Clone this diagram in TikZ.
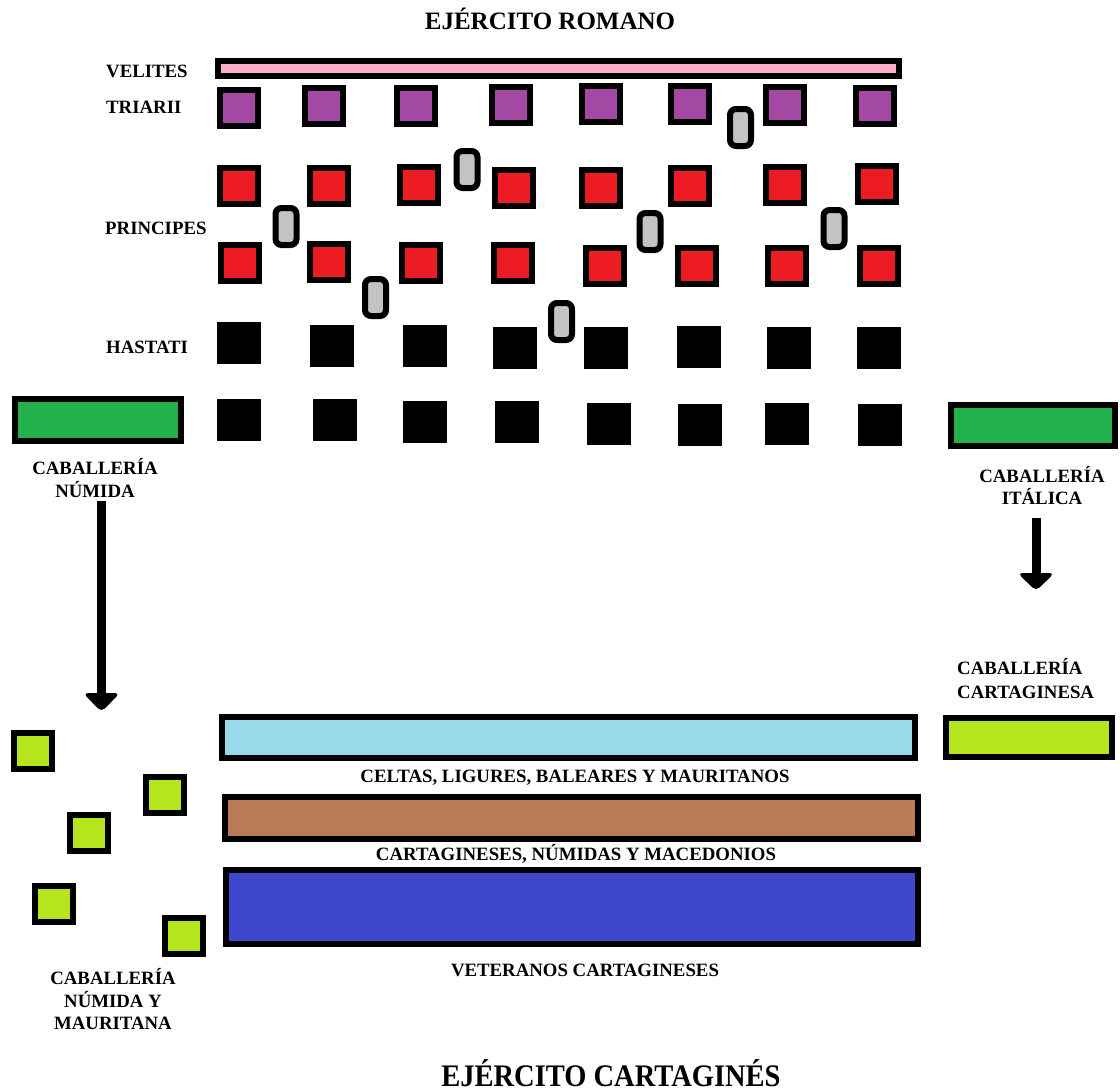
\documentclass[tikz,border=0pt]{standalone}
\usepackage{fontspec}
\setmainfont{Liberation Serif}
\usetikzlibrary{calc}
\definecolor{velpink}{HTML}{FFAEC9}
\definecolor{tripurple}{HTML}{A349A4}
\definecolor{prired}{HTML}{ED1C24}
\definecolor{pillgray}{HTML}{C3C3C3}
\definecolor{cavgreen}{HTML}{22B14C}
\definecolor{limegreen}{HTML}{B5E61D}
\definecolor{celtblue}{HTML}{99D9EA}
\definecolor{cartbrown}{HTML}{B97A57}
\definecolor{vetblue}{HTML}{3F48CC}
\begin{document}
\begin{tikzpicture}[x=1pt,y=-1pt,
  unit/.style={draw=black,line width=6pt,inner sep=0pt,minimum width=38pt,minimum height=36pt},
  blk/.style={fill=black,inner sep=0pt,minimum width=44pt,minimum height=42pt},
  pill/.style={draw=black,line width=6pt,fill=pillgray,rounded corners=6pt,inner sep=0pt,minimum width=21pt,minimum height=37pt},
  bar/.style={draw=black,line width=6pt,inner sep=0pt},
  lbl/.style={font=\bfseries\fontsize{18.8}{22}\selectfont,inner sep=0pt,anchor=base},
  ttl/.style={font=\bfseries\fontsize{25}{30}\selectfont,inner sep=0pt,anchor=base},
  shaft/.style={line width=9pt},
  head/.style={fill=black,rounded corners=5pt}
]
\useasboundingbox[fill=white] (0,0) rectangle (1120,1092);

% titles
\node[ttl] (tromano) at (550,29) {EJÉRCITO ROMANO};
\node[ttl,font=\bfseries\fontsize{28.5}{34}\selectfont] (tcart) at (611,1086) {\scalebox{1}[1.1]{EJÉRCITO CARTAGINÉS}};

% roman labels
\node[lbl,anchor=base west] (lvel) at (106,77) {VELITES};
\node[lbl,anchor=base west] (ltri) at (106,113) {TRIARII};
\node[lbl,anchor=base west] (lpri) at (105,234) {PRINCIPES};
\node[lbl,anchor=base west] (lhas) at (106,353) {HASTATI};

% velites
\node[bar,fill=velpink,minimum width=681pt,minimum height=15pt] (velites) at (558.5,68.5) {};

% triarii
\foreach \x/\y [count=\i] in {239/107.5,324/106,416/106,511/104.5,601/104,690/104,785/105,875/106}
  \node[unit,fill=tripurple] (tri\i) at (\x,\y) {};

% principes
\foreach \x/\y [count=\i] in {239/186,329/186,419/185,514/187.5,601/187.5,690/186,785/185,877/184}
  \node[unit,fill=prired] (pa\i) at (\x,\y) {};
\foreach \x/\y [count=\i] in {240/263,329/262,421/263,512.5/263,605/266,697/266,787/266,879/266}
  \node[unit,fill=prired] (pb\i) at (\x,\y) {};

% hastati
\foreach \x/\y [count=\i] in {239/343,332/346,425/346,515/348,605.5/348,698.5/347,788.5/348,878.5/348}
  \node[blk] (ha\i) at (\x,\y) {};
\foreach \x/\y [count=\i] in {239/420,335/420,425/422,517/422,608.5/424,699.5/425,787/424,879.5/425}
  \node[blk] (hb\i) at (\x,\y) {};

% gray pills
\foreach \x/\y [count=\i] in {740.5/127.5,467/169.5,286/226.5,650/231.5,834/228.5,375.5/297.5,561.5/321.5}
  \node[pill] (pill\i) at (\x,\y) {};

% roman cavalry
\node[bar,fill=cavgreen,minimum width=166pt,minimum height=42pt] (cavnum) at (98,420) {};
\node[bar,fill=cavgreen,minimum width=164pt,minimum height=41pt] (cavita) at (1033,425.5) {};
\node[lbl] (lnum1) at (95,474) {CABALLERÍA};
\node[lbl] (lnum2) at (95,497) {NÚMIDA};
\node[lbl] (lita1) at (1042,482) {CABALLERÍA};
\node[lbl] (lita2) at (1042,504) {ITÁLICA};

% arrows
\coordinate (la0) at (101.5,501);
\coordinate (la1) at (101.5,697);
\coordinate (latip) at (101.5,712);
\draw[shaft] (la0) -- (la1);
\fill[head] ($(latip)+(-18.5,-19)$) -- ($(latip)+(18.5,-19)$) -- (latip) -- cycle;
\coordinate (ra0) at (1036,518);
\coordinate (ra1) at (1036,577);
\coordinate (ratip) at (1036,591);
\draw[shaft] (ra0) -- (ra1);
\fill[head] ($(ratip)+(-18.5,-18)$) -- ($(ratip)+(18.5,-18)$) -- (ratip) -- cycle;

% carthaginian cavalry
\node[lbl,anchor=base west] (lcc1) at (957,674) {CABALLERÍA};
\node[lbl,anchor=base west] (lcc2) at (957,698) {CARTAGINESA};
\node[bar,fill=limegreen,minimum width=166pt,minimum height=39pt] (cavcart) at (1029,737.5) {};

\foreach \x/\y [count=\i] in {32.6/751,165/794.5,89/832.5,54/903.5,184/936}
  \node[unit,fill=limegreen] (nm\i) at (\x,\y) {};
\node[lbl] (lnm1) at (113,984) {CABALLERÍA};
\node[lbl] (lnm2) at (113,1007) {NÚMIDA Y};
\node[lbl] (lnm3) at (113,1029) {MAURITANA};

% carthaginian infantry
\node[bar,fill=celtblue,minimum width=693pt,minimum height=41pt] (celt) at (568.5,737.5) {};
\node[lbl] (lcelt) at (575,782) {CELTAS, LIGURES, BALEARES Y MAURITANOS};
\node[bar,fill=cartbrown,minimum width=693pt,minimum height=42pt] (cart) at (571.5,818) {};
\node[lbl] (lcart) at (576,860) {CARTAGINESES, NÚMIDAS Y MACEDONIOS};
\node[bar,fill=vetblue,minimum width=692pt,minimum height=74pt] (vet) at (572,907) {};
\node[lbl] (lvet) at (585,976) {VETERANOS CARTAGINESES};
\end{tikzpicture}
\end{document}
